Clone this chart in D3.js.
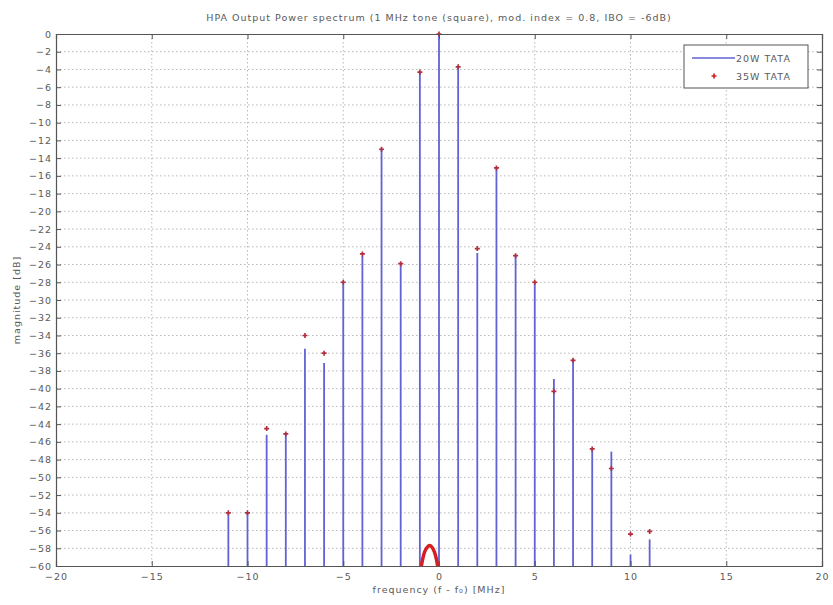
<!DOCTYPE html>
<html>
<head>
<meta charset="utf-8">
<script src="https://cdn.jsdelivr.net/npm/d3@7"></script>
<style>
  html, body { margin: 0; padding: 0; background: #fff; }
  svg text { font-family: "DejaVu Sans", Verdana, sans-serif; letter-spacing: 1px; }
</style>
</head>
<body>
<svg id="chart" width="833" height="605"></svg>
<script>
// Harmonic lines of a 1 MHz square-tone FM signal through the HPA
const freqs = [-11, -10, -9, -8, -7, -6, -5, -4, -3, -2, -1, 0, 1, 2, 3, 4, 5, 6, 7, 8, 9, 10, 11];
const mag20W = [-54, -54, -45.2, -45.1, -35.5, -37.1, -28, -25, -13, -25.9, -4.3, 0, -3.7, -24.7, -15.1, -25, -28, -38.9, -36.7, -46.8, -47.1, -58.7, -57];
const mag35W = [-54, -54, -44.5, -45.1, -34, -36, -28, -24.8, -13, -25.9, -4.3, 0, -3.7, -24.2, -15.1, -25, -28, -40.3, -36.8, -46.8, -49, -56.4, -56.1];

// Dense 35W trace near the carrier floor
const floorFreq = [-0.92, -0.85, -0.75, -0.62, -0.49, -0.36, -0.24, -0.14, -0.07];
const floorMag = [-60, -59.2, -58.4, -57.9, -57.7, -57.9, -58.4, -59.2, -60];

const xTicks = [-20, -15, -10, -5, 0, 5, 10, 15, 20];
const yTicks = d3.range(0, -61, -2);

const titleText = "HPA Output Power spectrum (1 MHz tone (square), mod. index = 0.8, IBO = -6dB)";
const xLabel = "frequency (f - f\u2080) [MHz]";
const yLabel = "magnitude [dB]";
const seriesNames = ["20W TATA", "35W TATA"];

const svg = d3.select("#chart");
const plotL = 56, plotR = 822, plotT = 34, plotB = 566;

const x = d3.scaleLinear().domain([-20, 20]).range([plotL, plotR]);
const y = d3.scaleLinear().domain([-60, 0]).range([plotB, plotT]);

const axisColor = "#555";
const textColor = "#5a5a5a";
const blue = "#6262d4";
const red = "#d42020";
const fs = 9.5;

// Grid
const grid = svg.append("g");
grid.selectAll("line.gx").data(xTicks.slice(1, -1)).join("line")
  .attr("x1", d => x(d)).attr("x2", d => x(d))
  .attr("y1", plotT).attr("y2", plotB)
  .attr("stroke", "#b8b8b8").attr("stroke-width", 1).attr("stroke-dasharray", "1.5,2.5");
grid.selectAll("line.gy").data(yTicks.slice(1, -1)).join("line")
  .attr("x1", plotL).attr("x2", plotR)
  .attr("y1", d => y(d)).attr("y2", d => y(d))
  .attr("stroke", "#b8b8b8").attr("stroke-width", 1).attr("stroke-dasharray", "1.5,2.5");

// Stems (20W)
svg.append("g").selectAll("line").data(freqs).join("line")
  .attr("x1", d => x(d)).attr("x2", d => x(d))
  .attr("y1", y(-60)).attr("y2", (d, i) => y(mag20W[i]))
  .attr("stroke", blue).attr("stroke-width", 1.8);

// Markers (35W)
svg.append("g").selectAll("path").data(freqs).join("path")
  .attr("transform", (d, i) => `translate(${x(d)},${y(mag35W[i])})`)
  .attr("d", d3.symbol().type(d3.symbolCross).size(14))
  .attr("fill", "#b03040");

// Floor trace
svg.append("path")
  .datum(floorFreq.map((f, i) => [f, floorMag[i]]))
  .attr("d", d3.line().x(d => x(d[0])).y(d => y(d[1])).curve(d3.curveCatmullRom))
  .attr("fill", "none").attr("stroke", red).attr("stroke-width", 3.5);

// Axes (ticks inside, box)
const axB = svg.append("g").attr("transform", `translate(0,${plotB})`)
  .call(d3.axisBottom(x).tickValues(xTicks).tickSize(-5).tickPadding(5).tickFormat(d3.format("d")));
const axT = svg.append("g").attr("transform", `translate(0,${plotT})`)
  .call(d3.axisTop(x).tickValues(xTicks).tickSize(-5).tickFormat(""));
const axL = svg.append("g").attr("transform", `translate(${plotL},0)`)
  .call(d3.axisLeft(y).tickValues(yTicks).tickSize(-5).tickPadding(4).tickFormat(d3.format("d")));
const axR = svg.append("g").attr("transform", `translate(${plotR},0)`)
  .call(d3.axisRight(y).tickValues(yTicks).tickSize(-5).tickFormat(""));
[axB, axT, axL, axR].forEach(a => {
  a.select(".domain").attr("stroke", axisColor).attr("stroke-width", 1.2);
  a.selectAll(".tick line").attr("stroke", axisColor);
  a.selectAll("text").attr("fill", textColor).attr("font-size", fs)
    .attr("font-family", "DejaVu Sans, Verdana, sans-serif");
});
axB.selectAll("text").attr("dy", "0.9em");

// Titles
svg.append("text").attr("x", (plotL + plotR) / 2).attr("y", 21)
  .attr("text-anchor", "middle").attr("font-size", fs).attr("fill", textColor).text(titleText);
svg.append("text").attr("x", (plotL + plotR) / 2).attr("y", 593)
  .attr("text-anchor", "middle").attr("font-size", fs).attr("fill", textColor).text(xLabel);
svg.append("text").attr("transform", `translate(20,${(plotT + plotB) / 2}) rotate(-90)`)
  .attr("text-anchor", "middle").attr("font-size", fs).attr("fill", textColor).text(yLabel);

// Legend
const lg = svg.append("g").attr("transform", "translate(684,45)");
lg.append("rect").attr("width", 124).attr("height", 43)
  .attr("fill", "#fff").attr("stroke", axisColor).attr("stroke-width", 1);
lg.append("line").attr("x1", 8).attr("x2", 51).attr("y1", 13).attr("y2", 13)
  .attr("stroke", blue).attr("stroke-width", 1.5);
lg.append("path").attr("transform", "translate(30,31)")
  .attr("d", d3.symbol().type(d3.symbolCross).size(14)).attr("fill", red);
lg.selectAll("text.lbl").data(seriesNames).join("text")
  .attr("x", 52).attr("y", (d, i) => 16.5 + i * 18.5)
  .attr("font-size", fs).attr("fill", textColor).text(d => d);
</script>
</body>
</html>
